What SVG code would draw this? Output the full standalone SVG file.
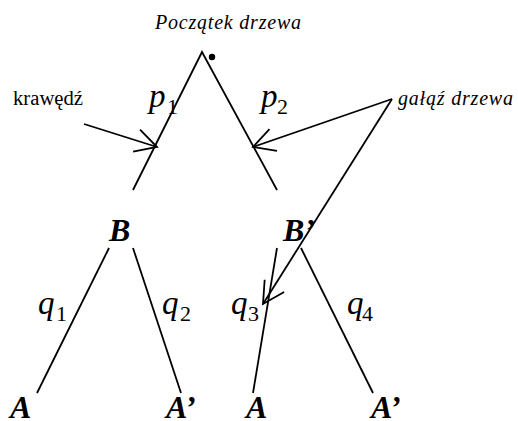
<svg xmlns="http://www.w3.org/2000/svg" width="518" height="421" viewBox="0 0 518 421">
<defs>
<marker id="arr" markerUnits="userSpaceOnUse" markerWidth="30" markerHeight="30" refX="24" refY="12" orient="auto" overflow="visible">
<path d="M2.6,0.5 L24,12 L2.6,23.5" fill="none" stroke="#000" stroke-width="1.8"/>
</marker>
</defs>
<style>
.ln{stroke:#000;stroke-width:1.8;fill:none}
.t{font-family:"Liberation Serif","Times New Roman",serif;fill:#000}
.it{font-style:italic}
.big{font-size:33px;font-style:italic}
.sub{font-size:22px}
.nd{font-size:32px;font-style:italic;font-weight:bold}
.lab{font-size:20px}
</style>
<rect width="518" height="421" fill="#fff"/>
<g id="edges">
<path class="ln" d="M133,190 L202,52 L277,190"/>
<path class="ln" d="M109,248 L37,393"/>
<path class="ln" d="M133,248 L181,393"/>
<path class="ln" d="M277,248 L253,393"/>
<path class="ln" d="M301,248 L373,393"/>
</g>
<g id="connectors">
<path class="ln" d="M84,124 L157,147" marker-end="url(#arr)"/>
<path class="ln" d="M392,99 L253,147" marker-end="url(#arr)"/>
<path class="ln" d="M392,99 L263,304" marker-end="url(#arr)"/>
</g>
<g id="root">
<circle cx="212" cy="57" r="3.2" fill="#000"/>
<text class="t it lab" x="155" y="29" textLength="146" lengthAdjust="spacing">Początek drzewa</text>
</g>
<g id="label-krawedz"><text class="t lab" x="13" y="105" textLength="70" lengthAdjust="spacingAndGlyphs">krawędź</text></g>
<g id="label-galaz"><text class="t it lab" x="398" y="105" textLength="115" lengthAdjust="spacing">gałąź drzewa</text></g>
<g id="p1"><text class="t big" x="149" y="107">p</text><text class="t sub" x="167" y="114">1</text></g>
<g id="p2"><text class="t big" x="261" y="107">p</text><text class="t sub" x="277" y="114">2</text></g>
<g id="q1"><text class="t big" x="38" y="314">q</text><text class="t sub" x="56" y="321">1</text></g>
<g id="q2"><text class="t big" x="162" y="314">q</text><text class="t sub" x="180" y="321">2</text></g>
<g id="q3"><text class="t big" x="231" y="314">q</text><text class="t sub" x="248" y="321">3</text></g>
<g id="q4"><text class="t big" x="347" y="314">q</text><text class="t sub" x="362" y="321">4</text></g>
<g id="B"><text class="t nd" x="109" y="241">B</text></g>
<g id="B2"><text class="t nd" x="283" y="241">B’</text></g>
<g id="A1"><text class="t nd" x="10" y="418">A</text></g>
<g id="A2"><text class="t nd" x="166" y="418">A’</text></g>
<g id="A3"><text class="t nd" x="246" y="418">A</text></g>
<g id="A4"><text class="t nd" x="371" y="418">A’</text></g>
</svg>
